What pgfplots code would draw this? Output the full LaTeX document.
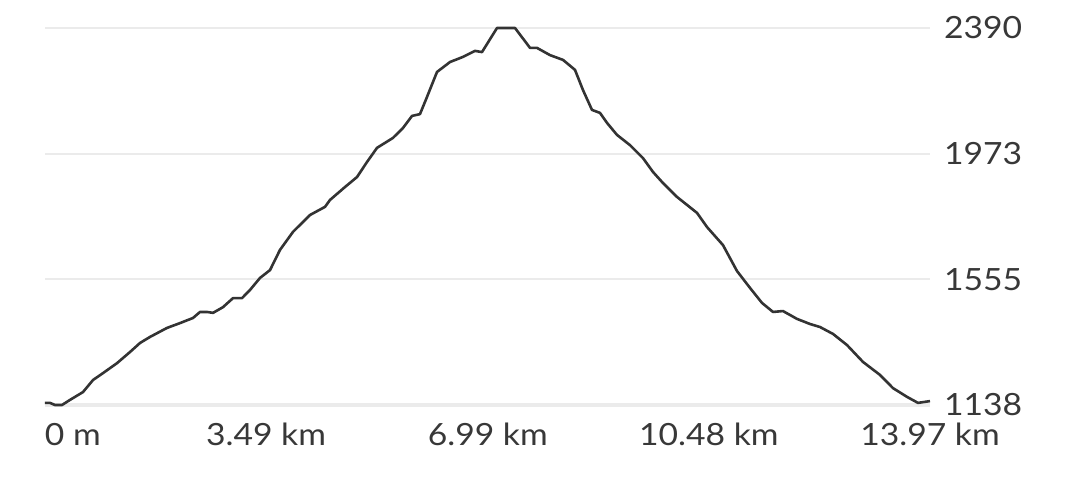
\documentclass[border=0pt]{standalone}
\usepackage{pgfplots}
\pgfplotsset{compat=1.18}
\usepackage{fontspec}
\setmainfont{Lato}[FakeStretch=1.1]
\definecolor{profile}{HTML}{333333}
\definecolor{gridgray}{HTML}{EBEBEB}
\definecolor{labelgray}{HTML}{383838}
% 1 px of the reference = 0.5pt
\newlength{\px}\setlength{\px}{0.5pt}
\begin{document}
\begin{tikzpicture}
\begin{axis}[
  name=ax,
  scale only axis,
  width=885\px, height=377\px,
  xmin=0, xmax=13.97,
  ymin=1138, ymax=2390,
  axis line style={draw=none},
  clip=false,
  xtick={0,3.49,6.99,10.48,13.97},
  xticklabels={\makebox[0pt][l]{0 m},3.49 km,6.99 km,10.48 km,13.97 km},
  ytick={1138,1555,1973,2390},
  yticklabels={1138,1555,1973,2390},
  yticklabel pos=right,
  xticklabel pos=bottom,
  major tick length=0pt,
  ymajorgrids,
  grid style={gridgray, line width=2\px},
  tick label style={font=\fontsize{15.3}{17}\selectfont, text=labelgray},
  y tick label style={anchor=west, xshift=7\px},
  x tick label style={anchor=north, yshift=-11\px},
  /pgf/number format/assume math mode=true,
]
% thicker base line
\addplot[gridgray, line width=4.5\px, forget plot] coordinates {(0,1138) (13.97,1138)};
\addplot[profile, line width=2.6\px, line join=round] coordinates {
(0.000,1145) (0.079,1145) (0.158,1138) (0.268,1138) (0.395,1155)
(0.600,1181) (0.758,1221) (0.916,1244) (1.137,1277) (1.342,1314)
(1.500,1344) (1.657,1364) (1.926,1394) (2.131,1410) (2.336,1427)
(2.447,1447) (2.557,1447) (2.652,1444) (2.810,1463) (2.968,1493)
(3.110,1493) (3.236,1520) (3.394,1560) (3.552,1586) (3.709,1653)
(3.915,1713) (4.183,1769) (4.420,1796) (4.499,1819) (4.736,1862)
(4.925,1895) (5.083,1945) (5.241,1992) (5.493,2025) (5.651,2058)
(5.793,2098) (5.919,2104) (6.030,2161) (6.188,2244) (6.393,2277)
(6.598,2294) (6.788,2314) (6.898,2310) (7.135,2390) (7.419,2390)
(7.656,2324) (7.766,2324) (7.971,2300) (8.177,2284) (8.366,2251)
(8.492,2184) (8.634,2118) (8.761,2108) (8.871,2075) (9.029,2035)
(9.234,2001) (9.439,1958) (9.597,1912) (9.755,1875) (9.976,1829)
(10.292,1776) (10.450,1729) (10.702,1669) (10.923,1583) (11.128,1527)
(11.318,1477) (11.492,1447) (11.649,1450) (11.870,1424) (12.076,1407)
(12.233,1397) (12.439,1374) (12.660,1337) (12.912,1281) (13.180,1238)
(13.386,1194) (13.607,1165) (13.780,1145) (13.970,1151)
};
\end{axis}
\pgfresetboundingbox
\path[use as bounding box] ([xshift=-45\px, yshift=-88\px]ax.south west) rectangle ++(1080\px, 493\px);
\end{tikzpicture}
\end{document}
